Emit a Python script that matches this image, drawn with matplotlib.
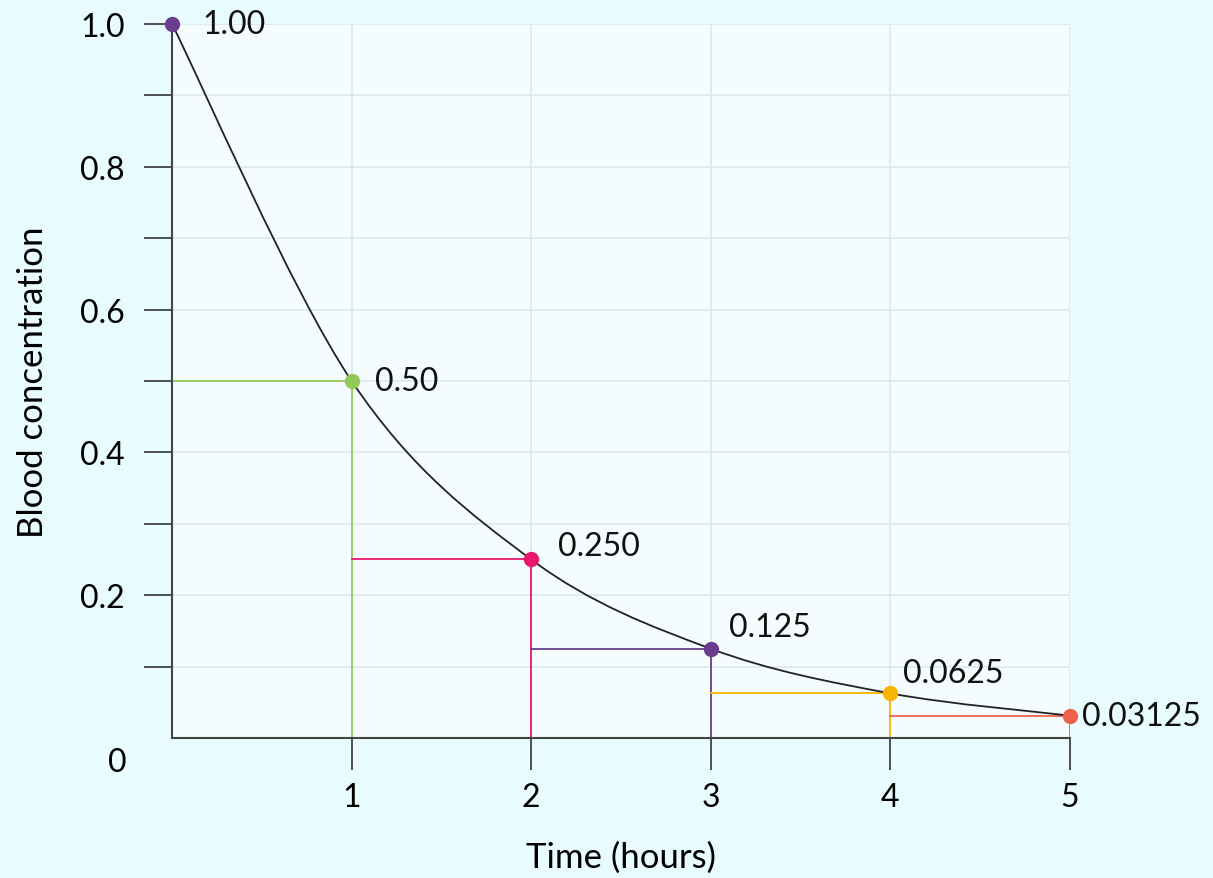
import numpy as np
import matplotlib.pyplot as plt
from matplotlib.path import Path
from matplotlib.patches import PathPatch
from matplotlib.ticker import MultipleLocator

hours = [0, 1, 2, 3, 4, 5]
conc = [1.0, 0.5, 0.25, 0.125, 0.0625, 0.03125]
labels = ['1.00', '0.50', '0.250', '0.125', '0.0625', '0.03125']
colors = ['#6a3d8f', '#93c95b', '#e8176b', '#6a3d8f', '#f7b500', '#f0614d']
offsets = [(22, 0), (17, 0), (19, 10), (13, 16), (9, 15), (9, 0)]

plt.rcParams['font.family'] = ['Lato', 'DejaVu Sans']

fig = plt.figure(figsize=(12.13, 8.79), dpi=100)
fig.patch.set_facecolor('#e8fbfe')
ax = fig.add_axes([0.1418, 0.1593, 0.7403, 0.8123])
ax.set_facecolor('#f4fcfd')
ax.set_xlim(0, 5)
ax.set_ylim(0, 1)

ax.yaxis.set_major_locator(MultipleLocator(0.1))
ax.xaxis.set_major_locator(MultipleLocator(1))
ax.grid(True, color='#d9e9f2', lw=1.2, zorder=0)
ax.set_axisbelow(True)

# smooth curve through the points (catmull-rom -> bezier)
x = np.array(hours, float)
y = np.array(conc, float)
verts = [(x[0], y[0])]
codes = [Path.MOVETO]
for i in range(len(x) - 1):
    p0 = np.array([x[max(i - 1, 0)], y[max(i - 1, 0)]])
    p1 = np.array([x[i], y[i]])
    p2 = np.array([x[i + 1], y[i + 1]])
    p3 = np.array([x[min(i + 2, len(x) - 1)], y[min(i + 2, len(x) - 1)]])
    c1 = p1 + (p2 - p0) / 6
    c2 = p2 - (p3 - p1) / 6
    verts += [tuple(c1), tuple(c2), tuple(p2)]
    codes += [Path.CURVE4] * 3
ax.add_patch(PathPatch(Path(verts, codes), fill=False, ec='#222222', lw=1.3, zorder=3))

for i in range(1, len(hours)):
    ax.plot([hours[i - 1], hours[i]], [conc[i], conc[i]], color=colors[i], lw=1.3, zorder=2)
    ax.plot([hours[i], hours[i]], [0, conc[i]], color=colors[i], lw=1.3, zorder=2)

for h, c, lab, col, off in zip(hours, conc, labels, colors, offsets):
    ax.plot(h, c, 'o', color=col, ms=10, zorder=5, clip_on=False)
    ax.annotate(lab, (h, c), xytext=off, textcoords='offset points',
                ha='left', va='center', fontsize=23, color='#111111')

for side in ['top', 'right']:
    ax.spines[side].set_visible(False)
for side in ['left', 'bottom']:
    ax.spines[side].set_color('#444444')
    ax.spines[side].set_linewidth(1.5)

ax.set_yticks(np.arange(0.1, 1.01, 0.1))
ax.set_yticklabels(['', '0.2', '', '0.4', '', '0.6', '', '0.8', '', '1.0'])
ax.set_xticks([1, 2, 3, 4, 5])
ax.tick_params(axis='y', length=20, width=1.2, color='#333333', pad=14, labelsize=23)
ax.tick_params(axis='x', length=23, width=1.2, color='#333333', pad=9, labelsize=23)
ax.text(-0.25, -0.012, '0', transform=ax.transData, ha='right', va='top', fontsize=23)

ax.set_xlabel('Time (hours)', fontsize=25, labelpad=20)
ax.set_ylabel('Blood concentration', fontsize=25, labelpad=22)

fig.savefig('out.png', dpi=100, facecolor=fig.get_facecolor())
